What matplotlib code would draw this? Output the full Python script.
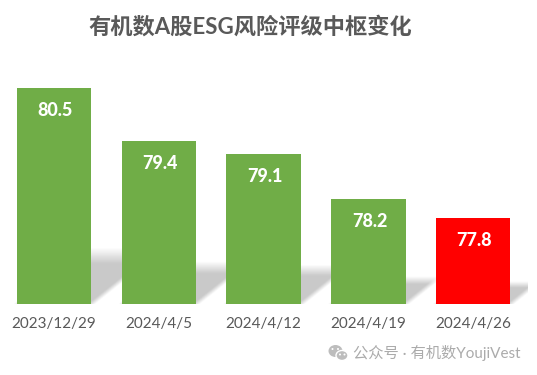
import numpy as np
import matplotlib
matplotlib.use('Agg')
import matplotlib.pyplot as plt
from matplotlib.patches import Ellipse, Circle

dates = ['2023/12/29', '2024/4/5', '2024/4/12', '2024/4/19', '2024/4/26']
values = [80.5, 79.4, 79.14, 78.2, 77.8]
bar_colors = ['#70AD47', '#70AD47', '#70AD47', '#70AD47', '#FF0000']

title = '有机数A股ESG风险评级中枢变化'
watermark = '公众号 · 有机数YoujiVest'

BASE = 76.0
BAR_W = 0.71
W, H = 537, 375
fonts = ['Lato', 'Noto Sans CJK SC', 'DejaVu Sans']
plt.rcParams['font.family'] = fonts

fig = plt.figure(figsize=(W / 100, H / 100), dpi=100)
ax = fig.add_axes([1.75 / W, (H - 304.5) / H, 525.25 / W, 264 / H])
ax.set_xlim(-0.5, 4.515)
ax.set_ylim(BASE, 81.5)


# Skewed soft shadow lying behind each bar, as an image under the bars
def shadow_layer(ax):
    xs = np.linspace(*ax.get_xlim(), 1050)
    ys = np.linspace(*ax.get_ylim(), 526)
    X, Y = np.meshgrid(xs, ys)
    alpha = np.zeros_like(X)
    for i, v in enumerate(values):
        h = v - BASE
        u = (Y - BASE) / (0.26 * h)       # 0 at the base, 1 at the shadow top
        dx = X - (i + 0.149 * h * u)      # unskewed distance from bar centre
        top = np.clip((1 - u) / 0.28, 0, 1)
        side = np.clip((BAR_W / 2 - dx) / 0.07 + 0.5, 0, 1)
        side = side * np.clip((dx + BAR_W / 2) / 0.07 + 0.5, 0, 1)
        alpha = np.maximum(alpha, 0.28 * top * side)
    rgba = np.zeros(X.shape + (4,))
    rgba[..., :3] = 0.25
    rgba[..., 3] = alpha
    ax.imshow(rgba, extent=[xs[0], xs[-1], ys[0], ys[-1]], origin='lower',
              aspect='auto', zorder=1, interpolation='bilinear')


shadow_layer(ax)

ax.bar(range(len(values)), np.array(values) - BASE, bottom=BASE, width=BAR_W,
       color=bar_colors, zorder=2, linewidth=0)

for i, v in enumerate(values):
    ax.annotate('%.1f' % v, (i, v), xytext=(1, -16), textcoords='offset points',
                ha='center', va='center', color='white', fontsize=13,
                fontweight='black', zorder=3)

ax.set_xticks(range(len(dates)))
ax.set_xticklabels(dates, fontsize=11, color='#595959')
ax.tick_params(axis='x', length=0, pad=9)
ax.set_yticks([])
for s in ax.spines.values():
    s.set_visible(False)

fig.text(250.5 / W, 1 - 27 / H, title, ha='center', va='center', fontsize=16,
         fontweight='bold', color='#595959')
fig.text(353 / W, 1 - 353 / H, watermark, ha='left', va='center', fontsize=11,
         color='#ABABAB')

# WeChat mark of the watermark
over = fig.add_axes([0, 0, 1, 1], facecolor='none')
over.set_xlim(0, W)
over.set_ylim(H, 0)
over.axis('off')
over.add_patch(Ellipse((335.5, 351), 14, 12, color='#BDBDBD', lw=0))
over.add_patch(Ellipse((342, 355.5), 12, 10, color='#BDBDBD', ec='white', lw=1))
for cx, cy in [(332.5, 349), (338, 349), (340, 354.5), (344.5, 354.5)]:
    over.add_patch(Circle((cx, cy), 1, color='white', lw=0))

fig.savefig('out.png', dpi=100)
